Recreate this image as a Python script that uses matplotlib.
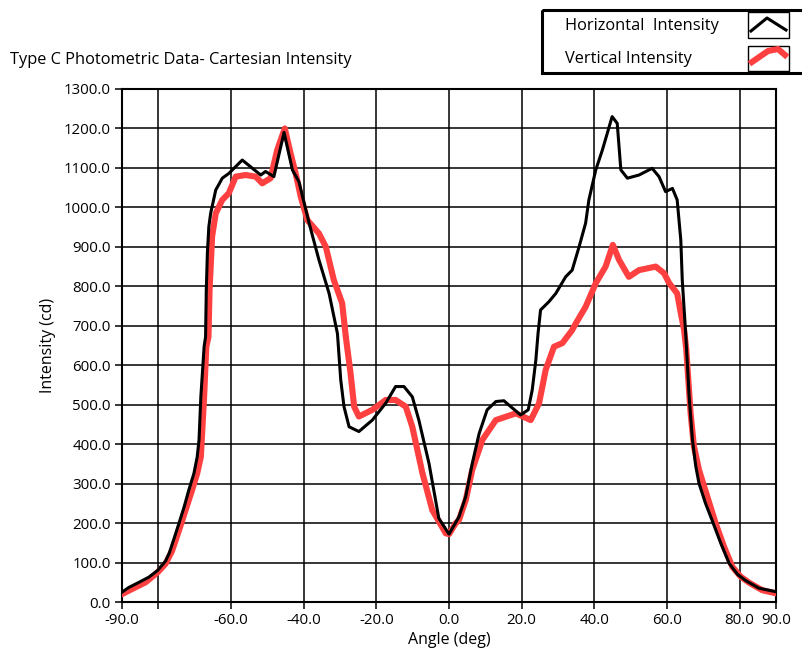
import numpy as np
import matplotlib
matplotlib.use("Agg")
import matplotlib.pyplot as plt
from matplotlib.patches import Rectangle

plt.rcParams['font.family'] = ['Open Sans', 'DejaVu Sans']

# Horizontal intensity (black)
ang_h = [-90, -88.1, -85.3, -82.6, -80.2, -78.0, -77, -75.7, -74.3, -72.9, -71.6, -70.2, -69.3,
         -68.8, -68.3, -67.4, -67.0, -66.8, -66.5, -66.1, -65.6,
         -64.2, -62.4, -60.6, -56.9, -54.1, -51.8, -50.5, -48.2, -45.4, -43.1, -41.3, -38.5, -35.8,
         -33.0, -30.7, -29.8, -28.9, -27.5, -24.8, -21.1, -17.4, -14.7, -12.4, -10.1, -8.3, -5.5,
         -2.8, 0, 2.75, 4.6, 6.4, 8.3, 10.5, 12.9, 15.1, 17.0, 19.7, 21.8, 22.9, 23.9, 24.5, 25.2,
         27.5, 29.4, 32.1, 33.9, 35.8, 37.6, 38.5, 40.4, 42.2, 44.9, 46.3, 47.3, 49.1, 52.3, 55.9,
         57.8, 59.6, 61.5, 62.8, 63.8, 64.2, 65.2, 66.1, 67.0, 67.9, 68.8, 70.6, 72.5, 74.8, 77.1,
         79.4, 81.7, 85.3, 90]
val_h = [25, 37, 50, 63, 80, 104, 124, 160, 200, 241, 284, 326, 368,
         411, 520, 647, 672, 791, 884, 951, 985,
         1044, 1074, 1086, 1120, 1099, 1082, 1091, 1078, 1190, 1095, 1065, 960, 867,
         782, 680, 563, 495, 444, 432, 461, 504, 546, 546, 520, 461, 351,
         212, 172, 216, 267, 351, 427, 487, 508, 510, 495, 474, 487, 537, 613, 680, 740,
         761, 782, 824, 841, 900, 960, 1019, 1095, 1145, 1230, 1213, 1095, 1074, 1082, 1099,
         1078, 1040, 1048, 1019, 917, 816, 672, 520, 411, 345, 301, 250, 205, 149, 98,
         70, 54, 35, 26]

# Vertical intensity (red)
ang_v = [-90, -87.2, -83.5, -80.2, -78, -76.2, -74.3, -72.5, -70.7, -69.3, -68.3, -67.4, -66.8,
         -66.2, -65.9, -65.2, -64.2, -62.4,
         -60.6, -58.7, -56.0, -53.2, -51.4, -49.1, -47.3, -45.2, -43.6, -42.2, -40.8, -39.0, -35.8,
         -33.9, -31.7, -29.4, -28.4, -27.1, -26.1, -24.8, -21.1, -17.4, -14.7, -11.9, -10.1, -7.3,
         -4.6, -0.9, 0, 1.8, 2.75, 4.6, 6.4, 9.2, 12.9, 18.4, 22.5, 24.8, 26.6, 28.9, 31.2, 33.9,
         34.9, 37.6, 40.4, 43.1, 45.1, 46.8, 49.5, 52.3, 56.9, 59.2, 60.6, 62.8, 63.8, 64.7, 65.3,
         66.5, 67.4, 68.8, 71.1, 73.4, 75.7, 78.0, 80.3, 82.6, 86.2, 90]
val_v = [20, 33, 50, 75, 97, 130, 182, 233, 284, 326, 368, 520, 647,
         672, 791, 926, 985, 1019,
         1036, 1078, 1082, 1078, 1061, 1074, 1145, 1200, 1137, 1086, 1027, 968, 934,
         900, 816, 757, 672, 580, 495, 470, 487, 512, 512, 495, 444, 326,
         233, 174, 172, 199, 208, 258, 335, 411, 461, 478, 461, 504, 588, 647, 656, 689,
         706, 748, 808, 850, 905, 867, 824, 841, 850, 833, 808, 782, 732, 690, 640,
         478, 395, 335, 267, 199, 140, 89, 64, 49, 30, 22]

xticks = [-90, -80, -60, -40, -20, 0, 20, 40, 60, 80, 90]
xlabels = ['-90.0', '', '-60.0', '-40.0', '-20.0', '0.0', '20.0', '40.0', '60.0', '80.0', '90.0']
yticks = np.arange(0, 1301, 100)

W, H = 803, 663
fig = plt.figure(figsize=(W / 100, H / 100), dpi=100)
ax = fig.add_axes([122 / W, 1 - 602 / H, 654 / W, 513 / H])

ax.plot(ang_v, val_v, color='#ff4040', lw=4.4, solid_joinstyle='round', zorder=3)
ax.plot(ang_h, val_h, color='black', lw=2.2, solid_joinstyle='round', zorder=4)

ax.set_xlim(-90, 90)
ax.set_ylim(0, 1300)
ax.set_xticks(xticks)
ax.set_xticklabels(xlabels)
ax.set_yticks(yticks)
ax.set_yticklabels(['%.1f' % v for v in yticks])
ax.grid(True, color='black', lw=1.1)
ax.set_axisbelow(True)
ax.tick_params(direction='out', length=5, width=1.1, labelsize=10.8, colors='black', pad=3)
for s in ax.spines.values():
    s.set_linewidth(1.5)
ax.set_xlabel('Angle (deg)', fontsize=11.5, labelpad=3)
ax.set_ylabel('Intensity (cd)', fontsize=11.5, labelpad=6)

fig.text(10 / W, 1 - 60 / H, 'Type C Photometric Data- Cartesian Intensity', fontsize=11.8,
         ha='left', va='center')

# legend drawn as a panel in pixel space
lg = fig.add_axes([0, 0, 1, 1], zorder=10)
lg.set_xlim(0, W)
lg.set_ylim(H, 0)
lg.axis('off')
lg.add_patch(Rectangle((542, 10), 270, 63, fill=False, lw=2.2, ec='black'))
lg.add_patch(Rectangle((748, 12), 41, 26, fill=False, lw=1.0, ec='black'))
lg.add_patch(Rectangle((748, 46), 41, 25, fill=False, lw=1.0, ec='black'))
lg.plot([751, 767, 786], [31, 18, 30], color='black', lw=2.2)
lg.plot([752, 768, 778, 785], [62, 51, 49, 55], color='#ff4040', lw=4.4)
lg.text(565, 26, 'Horizontal  Intensity', fontsize=11.8, va='center')
lg.text(565, 59, 'Vertical Intensity', fontsize=11.8, va='center')

fig.savefig('out.png', dpi=100)
